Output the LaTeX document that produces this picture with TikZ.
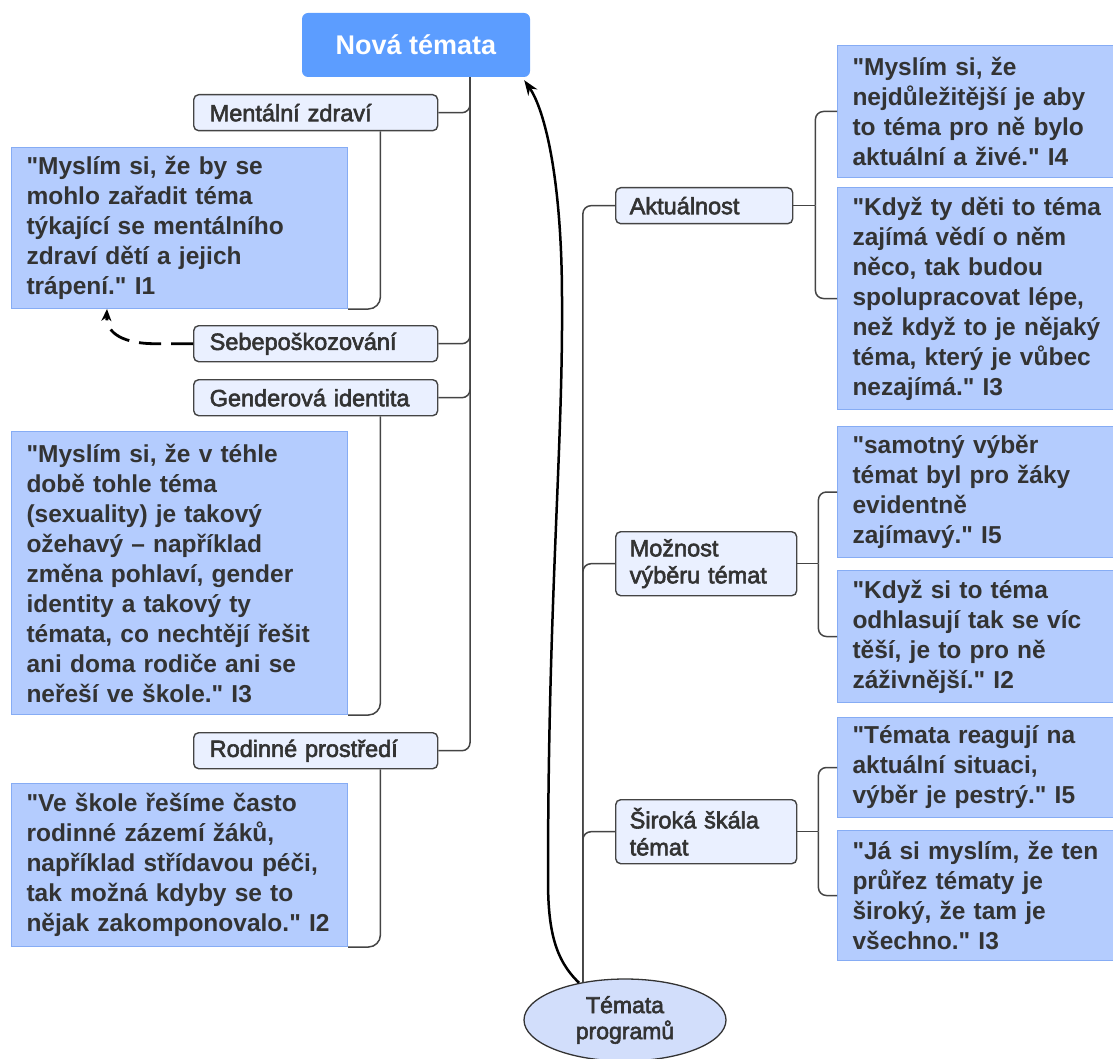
\documentclass[tikz,border=0pt]{standalone}
\usepackage{fontspec}
\setmainfont{Liberation Sans}[Ligatures=TeXOff]
\newfontfamily\labfont{Liberation Sans}[Ligatures=TeXOff,FakeBold=2.5]
\usetikzlibrary{arrows.meta,shapes.geometric}
\definecolor{titleblue}{HTML}{5C9DFF}
\definecolor{labfill}{HTML}{EAF0FF}
\definecolor{quotefill}{HTML}{B4CCFE}
\definecolor{quoteline}{HTML}{86ACF4}
\definecolor{ellfill}{HTML}{D2DEFB}
\definecolor{txt}{HTML}{333333}
\definecolor{connc}{HTML}{444444}
\begin{document}
\begin{tikzpicture}[x=1pt,y=-1pt,
  titlebox/.style={fill=titleblue, rounded corners=6pt, minimum width=228pt,
    minimum height=64pt, text=white, font=\bfseries\fontsize{27}{32}\selectfont, inner sep=0pt},
  labbox/.style={draw=connc, fill=labfill, line width=1.4pt, rounded corners=5pt,
    anchor=north west, text=txt, font=\labfont\fontsize{23.5}{27}\selectfont, align=left,
    inner xsep=16pt, inner ysep=0pt},
  quotebox/.style={draw=quoteline, fill=quotefill, line width=1pt, anchor=north west,
    text=txt, font=\bfseries\fontsize{24.5}{30}\selectfont, align=left,
    inner xsep=15pt, inner ysep=0pt},
  lq/.style={quotebox, text width=306pt, minimum width=336pt},
  rq/.style={quotebox, text width=260pt, minimum width=290pt},
  connl/.style={draw=connc, line width=1.5pt, rounded corners=8pt},
  connq/.style={draw=connc, line width=1.5pt, rounded corners=12pt},
  bigarrow/.style={line width=2.5pt, -{Stealth[length=15pt,width=11pt]}},
  dasharrow/.style={line width=2.8pt, dash pattern=on 22pt off 10pt, -{Stealth[length=12pt,width=10pt]}}
]
\useasboundingbox (0,0) rectangle (1113,1059);
\clip (0,0) rectangle (1113,1059);

% title and root
\node[titlebox] (title) at (416,45) {Nová témata};
\node[ellipse, draw=txt, fill=ellfill, line width=1.3pt, minimum width=202pt,
  minimum height=82pt, inner sep=0pt, align=center, text=txt,
  font=\labfont\fontsize{23}{26}\selectfont] (ell) at (625,1020) {Témata\\programů};

% left labels
\node[labbox, text width=212pt, minimum height=36pt] (ment) at (193,94) {Mentální zdraví};
\node[labbox, text width=212pt, minimum height=36pt] (seb) at (193,325) {Sebepoškozování};
\node[labbox, text width=212pt, minimum height=36pt] (gen) at (193,379) {Genderová identita};
\node[labbox, text width=212pt, minimum height=36pt] (rod) at (193,732) {Rodinné prostředí};

% left quotes
\node[lq, minimum height=161pt] (q1) at (11,147) {"Myslím si, že by se\\mohlo zařadit téma\\týkající se mentálního\\zdraví dětí a jejich\\trápení." I1};
\node[lq, minimum height=283pt] (q2) at (11,431) {"Myslím si, že v téhle\\době tohle téma\\(sexuality) je takový\\ožehavý – například\\změna pohlaví, gender\\identity a takový ty\\témata, co nechtějí řešit\\ani doma rodiče ani se\\neřeší ve škole." I3};
\node[lq, minimum height=163pt] (q3) at (11,783) {"Ve škole řešíme často\\rodinné zázemí žáků,\\například střídavou péči,\\tak možná kdyby se to\\nějak zakomponovalo." I2};

% right labels
\node[labbox, inner xsep=14pt, text width=149pt, minimum height=36pt] (akt) at (615,187) {Aktuálnost};
\node[labbox, inner xsep=14pt, text width=153pt, minimum height=64pt] (moz) at (615,531) {Možnost\\výběru témat};
\node[labbox, inner xsep=14pt, text width=153pt, minimum height=64pt] (sir) at (615,799) {Široká škála\\témat};

% right quotes
\node[rq, minimum height=132pt] (r1) at (837,45) {"Myslím si, že\\nejdůležitější je aby\\to téma pro ně bylo\\aktuální a živé." I4};
\node[rq, minimum height=222pt] (r2) at (837,187) {"Když ty děti to téma\\zajímá vědí o něm\\něco, tak budou\\spolupracovat lépe,\\než když to je nějaký\\téma, který je vůbec\\nezajímá." I3};
\node[rq, minimum height=131pt] (r3) at (837,426) {"samotný výběr\\témat byl pro žáky\\evidentně\\zajímavý." I5};
\node[rq, minimum height=132pt] (r4) at (837,570) {"Když si to téma\\odhlasují tak se víc\\těší, je to pro ně\\záživnější." I2};
\node[rq, minimum height=100pt] (r5) at (837,717) {"Témata reagují na\\aktuální situaci,\\výběr je pestrý." I5};
\node[rq, minimum height=130pt] (r6) at (837,830) {"Já si myslím, že ten\\průřez tématy je\\široký, že tam je\\všechno." I3};

% left tree
\coordinate (lt) at ([xshift=54pt]title.south);
\draw[connl] (lt) |- (rod.east);
\draw[connl] (lt) |- (ment.east);
\draw[connl] (lt) |- (seb.east);
\draw[connl] (lt) |- (gen.east);
\draw[connq] ([xshift=-58pt]ment.south east) |- (q1.south east);
\draw[connq] ([xshift=-58pt]gen.south east) |- (q2.south east);
\draw[connq] ([xshift=-58pt]rod.south east) |- (q3.south east);

% right tree
\draw[connl] (ell.138) |- (akt.west);
\draw[connl] (ell.138) |- (moz.west);
\draw[connl] (ell.138) |- (sir.west);
\draw[connl] (akt.east) -- ++(22,0) coordinate (ab);
\draw[connl] (ab) |- (r1.west);
\draw[connl] (ab) |- (r2.west);
\draw[connl] (moz.east) -- ++(21,0) coordinate (mb);
\draw[connl] (mb) |- (r3.west);
\draw[connl] (mb) |- (r4.west);
\draw[connl] (sir.east) -- ++(21,0) coordinate (sb);
\draw[connl] (sb) |- (r5.west);
\draw[connl] (sb) |- (r6.west);

% arrows
\draw[bigarrow] (ell.141) .. controls (555,960) and (548,930) .. (548,880)
  .. controls (548,600) and (563,450) .. (562,300)
  .. controls (562,180) and (545,110) .. ([shift={(-6pt,-3pt)}]title.south east);
\draw[dasharrow] (seb.west) -- ++(-40,0) .. controls (118,343) and (106,330) .. ([xshift=96pt]q1.south west);
\end{tikzpicture}
\end{document}
